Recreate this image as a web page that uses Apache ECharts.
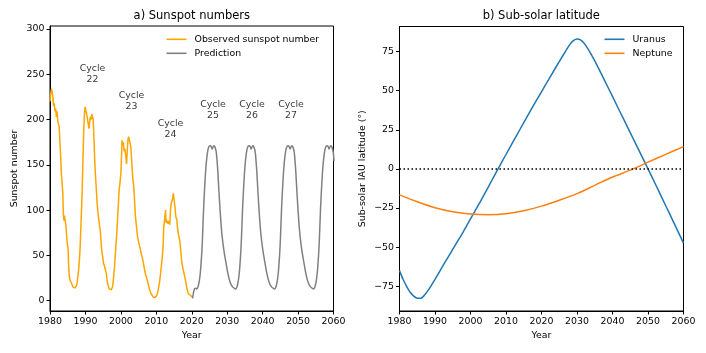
<!DOCTYPE html>
<html>
<head>
<meta charset="utf-8">
<script src="https://cdn.jsdelivr.net/npm/echarts@6/dist/echarts.min.js"></script>
<style>html,body{margin:0;padding:0;background:#fff}#c{width:706px;height:353px}</style>
</head>
<body>
<div id="c"></div>
<script>
// ---------- data ----------
const obsYears = [1980.0,1980.2,1980.4,1980.6,1980.8,1981.0,1981.2,1981.4,1981.6,1981.8,1982.0,1982.2,1982.4,1982.6,1982.8,1983.0,1983.2,1983.4,1983.6,1983.8,1984.0,1984.1,1984.3,1984.5,1984.7,1984.9,1985.1,1985.3,1985.5,1985.7,1985.9,1986.1,1986.3,1986.5,1986.7,1986.9,1987.1,1987.3,1987.5,1987.7,1987.9,1988.1,1988.3,1988.5,1988.7,1988.9,1989.1,1989.3,1989.5,1989.7,1989.9,1990.0,1990.2,1990.4,1990.6,1990.8,1991.0,1991.2,1991.4,1991.6,1991.8,1992.0,1992.2,1992.4,1992.6,1992.8,1993.0,1993.3,1993.6,1993.9,1994.2,1994.5,1994.7,1994.9,1995.1,1995.4,1995.7,1995.9,1996.1,1996.4,1996.7,1997.0,1997.3,1997.5,1997.7,1997.9,1998.2,1998.5,1998.9,1999.2,1999.5,1999.8,2000.0,2000.2,2000.3,2000.5,2000.7,2000.9,2001.1,2001.4,2001.6,2001.8,2002.0,2002.2,2002.4,2002.6,2002.8,2003.0,2003.2,2003.4,2003.6,2003.9,2004.1,2004.4,2004.7,2005.0,2005.3,2005.5,2005.8,2006.2,2006.5,2006.9,2007.2,2007.5,2007.8,2008.1,2008.5,2008.8,2009.1,2009.4,2009.7,2010.0,2010.2,2010.5,2010.9,2011.2,2011.6,2011.9,2012.1,2012.3,2012.6,2012.75,2012.9,2013.1,2013.3,2013.5,2013.8,2014.0,2014.2,2014.4,2014.6,2014.8,2015.0,2015.3,2015.5,2015.8,2016.0,2016.3,2016.6,2016.9,2017.2,2017.6,2018.0,2018.3,2018.6,2019.0,2019.3,2019.6,2020.0,2020.25];
const obsValues = [220,228,234,231,226,215,218,209,212,203,209,198,200,192,175,160,140,131,120,93,88,94,88,83,72,62,58,35,25,22,20.5,19,18,15,16,13.5,14,13.5,17,21,28,35,45,58,80,100,125,155,185,205,214,212,213,205,203,195,190,198,203,200,206,205,200,180,157,140,128,107,95,85,77,60,52,48,41,38,33,30,22,17,13,11,12,14,16,24,37,55,78,100,122,132,141,160,177,172,175,165,168,160,151,165,178,181,183,180,170,158,145,133,128,108,93,82,71,65,60,58,51,45,38,30,26,22,17,12,8,6,4,2.5,3.5,5,6.5,11,20,30,45,58,82,88,100,86,89,88,85,88,84,100,107,108,113,118.6,112,102,93,89,80,72,67,55,42,34,27,21,14,8,7,6,5,3.5,2.6];

const predYears = [2020.25,2020.55,2020.85,2021.15,
 2021.45,2021.75,2022.1,2022.4,2022.7,2022.95,2023.15,2023.35,2023.6,2023.85,2024.1,2024.35,2024.6,2024.85,2025.2,2025.5,2025.75,2026.05,2026.3,2026.6,2026.9,2027.15,2027.4,2027.65,2027.9,2028.2,2028.55,2029.05,2029.65,2030.25,2030.85,2031.45,2031.95,
 2032.45,2032.75,2033.1,2033.4,2033.7,2033.95,2034.15,2034.35,2034.6,2034.85,2035.1,2035.35,2035.6,2035.85,2036.2,2036.5,2036.75,2037.05,2037.3,2037.6,2037.9,2038.15,2038.4,2038.65,2038.9,2039.2,2039.55,2040.05,2040.65,2041.25,2041.85,2042.45,2042.95,
 2043.45,2043.75,2044.1,2044.4,2044.7,2044.95,2045.15,2045.35,2045.6,2045.85,2046.1,2046.35,2046.6,2046.85,2047.2,2047.5,2047.75,2048.05,2048.3,2048.6,2048.9,2049.15,2049.4,2049.65,2049.9,2050.2,2050.55,2051.05,2051.65,2052.25,2052.85,2053.45,2053.95,
 2054.45,2054.75,2055.1,2055.4,2055.7,2055.95,2056.15,2056.35,2056.6,2056.85,2057.1,2057.35,2057.6,2057.85,2058.2,2058.5,2058.75,2059.05,2059.3,2059.6,2059.9,2060.15];
const predValues = [2.6,10,13.5,13.8,
 13,15,21,30,45,62,82,102,122,139,152,161,167,170,171,170,167.5,170,171,169,164.5,154,140,122,106,88,72,56,42,29,20,15.5,13.8,
 13,15,21,30,45,62,82,102,122,139,152,161,167,170,171,170,167.5,170,171,169,164.5,154,140,122,106,88,72,56,42,29,20,15.5,13.8,
 13,15,21,30,45,62,82,102,122,139,152,161,167,170,171,170,167.5,170,171,169,164.5,154,140,122,106,88,72,56,42,29,20,15.5,13.8,
 13,15,21,30,45,62,82,102,122,139,152,161,167,170,171,170,167.5,170,171,169,164.5,154];

const cycleNames = ['22','23','24','25','26','27'];
const cycleYears = [1992,2003,2014,2026,2037,2048];
const cycleValues = [250,220,190,210,210,210];

const uranusYears = [1980,1981,1982,1983,1984,1985,1986,1987,1988,1989,1990,1992,1994,1996,1998,2000,2002,2004,2006,2008,2010,2012,2014,2016,2018,2020,2022,2024,2026,2027,2028,2029,2030,2031,2032,2033,2034,2035,2036,2038,2040,2042,2044,2046,2048,2050,2052,2054,2056,2058,2060];
const uranusValues = [-65,-70.5,-75,-78.8,-81.3,-82.6,-82.6,-80.8,-77.8,-74.3,-70.6,-62.8,-55.2,-47.6,-40,-32,-24,-15.8,-7.4,1,9.2,17.4,25.5,33.5,41.5,49.3,57,64.8,72.3,76,79.6,82,83,82.5,80.3,77,73.2,69,64.6,55.5,46.3,37,27.8,18.5,9.3,0,-9.3,-18.8,-28.3,-37.8,-47.4];
const neptuneYears = [1980,1985,1990,1995,2000,2005,2010,2015,2020,2025,2030,2035,2040,2045,2050,2055,2060];
const neptuneValues = [-16.6,-21,-24.8,-27.4,-28.8,-29.3,-28.7,-26.8,-23.8,-20,-15.8,-10.5,-5.2,-0.8,4.3,9.3,14.2];

const yearTicks = [1980,1990,2000,2010,2020,2030,2040,2050,2060];
const sunspotTicks = [0,50,100,150,200,250,300];
const latTicks = [-75,-50,-25,0,25,50,75];

// ---------- chart ----------
const zip = (xs, ys) => xs.map((x, i) => [x, ys[i]]);
const FONT = 'DejaVu Sans';
const fs = 9.4;
const txt = {fontFamily: FONT, fontSize: fs, color: '#000'};
const minus = v => String(v).replace('-', '\u2212');

function xAxisFor(gi) {
  return {
    type: 'value', gridIndex: gi, min: 1980, max: 2060, interval: 10,
    name: 'Year', nameLocation: 'middle', nameGap: 19, nameTextStyle: txt,
    axisLine: {show: true, onZero: false, lineStyle: {color: '#000', width: 1}},
    axisTick: {show: true, length: 3.5, lineStyle: {color: '#000'}, customValues: yearTicks},
    axisLabel: Object.assign({margin: 6, customValues: yearTicks, formatter: v => String(v)}, txt),
    splitLine: {show: false}
  };
}
function yAxisFor(gi, min, max, ticks, name, gap) {
  return {
    type: 'value', gridIndex: gi, min: min, max: max,
    name: name, nameLocation: 'middle', nameGap: gap, nameTextStyle: txt,
    axisLine: {show: true, onZero: false, lineStyle: {color: '#000', width: 1}},
    axisTick: {show: true, length: 3.5, lineStyle: {color: '#000'}, customValues: ticks},
    axisLabel: Object.assign({margin: 5.5, customValues: ticks, formatter: minus}, txt),
    splitLine: {show: false}
  };
}
const legendText = Object.assign({padding: [0, 0, 0, 3], lineHeight: 11}, txt);

const chart = echarts.init(document.getElementById('c'), null, {renderer: 'canvas'});
chart.setOption({
  animation: false,
  backgroundColor: '#fff',
  textStyle: {fontFamily: FONT},
  title: [
    {text: 'a) Sunspot numbers', left: 191.8, top: 10, textAlign: 'center', padding: 0,
     textStyle: {fontFamily: FONT, fontSize: 11.5, fontWeight: 'normal', color: '#000'}},
    {text: 'b) Sub-solar latitude', left: 541.3, top: 10, textAlign: 'center', padding: 0,
     textStyle: {fontFamily: FONT, fontSize: 11.5, fontWeight: 'normal', color: '#000'}}
  ],
  grid: [
    {left: 50, top: 26, width: 283.5, height: 285, show: true, borderColor: '#000', borderWidth: 1, backgroundColor: 'transparent'},
    {left: 399.5, top: 26.5, width: 284, height: 284.5, show: true, borderColor: '#000', borderWidth: 1, backgroundColor: 'transparent'}
  ],
  legend: [
    {data: ['Observed sunspot number', 'Prediction'], orient: 'vertical', left: 166.5, top: 33.8,
     icon: 'rect', itemWidth: 20, itemHeight: 1.6, itemGap: 3, padding: 0, textStyle: legendText},
    {data: ['Uranus', 'Neptune'], orient: 'vertical', left: 604.5, top: 33.8,
     icon: 'rect', itemWidth: 20, itemHeight: 1.6, itemGap: 3, padding: 0, textStyle: legendText}
  ],
  xAxis: [xAxisFor(0), xAxisFor(1)],
  yAxis: [
    yAxisFor(0, -11.4, 303.3, sunspotTicks, 'Sunspot number', 31),
    yAxisFor(1, -90.8, 91, latTicks, 'Sub-solar IAU latitude (°)', 32)
  ],
  series: [
    {name: 'Observed sunspot number', type: 'line', xAxisIndex: 0, yAxisIndex: 0,
     data: zip(obsYears, obsValues), symbol: 'none', lineStyle: {color: '#FFA500', width: 1.5},
     itemStyle: {color: '#FFA500'}},
    {name: 'Prediction', type: 'line', xAxisIndex: 0, yAxisIndex: 0, smooth: 0.3,
     data: zip(predYears, predValues), symbol: 'none', lineStyle: {color: '#808080', width: 1.5},
     itemStyle: {color: '#808080'}},
    {type: 'scatter', xAxisIndex: 0, yAxisIndex: 0, symbolSize: 0.1, silent: true,
     itemStyle: {color: 'transparent'},
     data: cycleNames.map((n, i) => ({name: 'Cycle\n' + n, value: [cycleYears[i], cycleValues[i]]})),
     label: {show: true, position: 'inside', formatter: '{b}', fontFamily: FONT, fontSize: fs, lineHeight: 11, color: '#000', align: 'center'}},
    {name: 'Uranus', type: 'line', xAxisIndex: 1, yAxisIndex: 1, smooth: 0.3,
     data: zip(uranusYears, uranusValues), symbol: 'none', lineStyle: {color: '#1f77b4', width: 1.5},
     itemStyle: {color: '#1f77b4'},
     markLine: {silent: true, symbol: 'none', label: {show: false},
       lineStyle: {color: '#000', type: [1.5, 2.5], width: 1.5},
       data: [{yAxis: 0}]}},
    {name: 'Neptune', type: 'line', xAxisIndex: 1, yAxisIndex: 1, smooth: 0.3,
     data: zip(neptuneYears, neptuneValues), symbol: 'none', lineStyle: {color: '#ff7f0e', width: 1.5},
     itemStyle: {color: '#ff7f0e'}}
  ]
});
</script>
</body>
</html>
